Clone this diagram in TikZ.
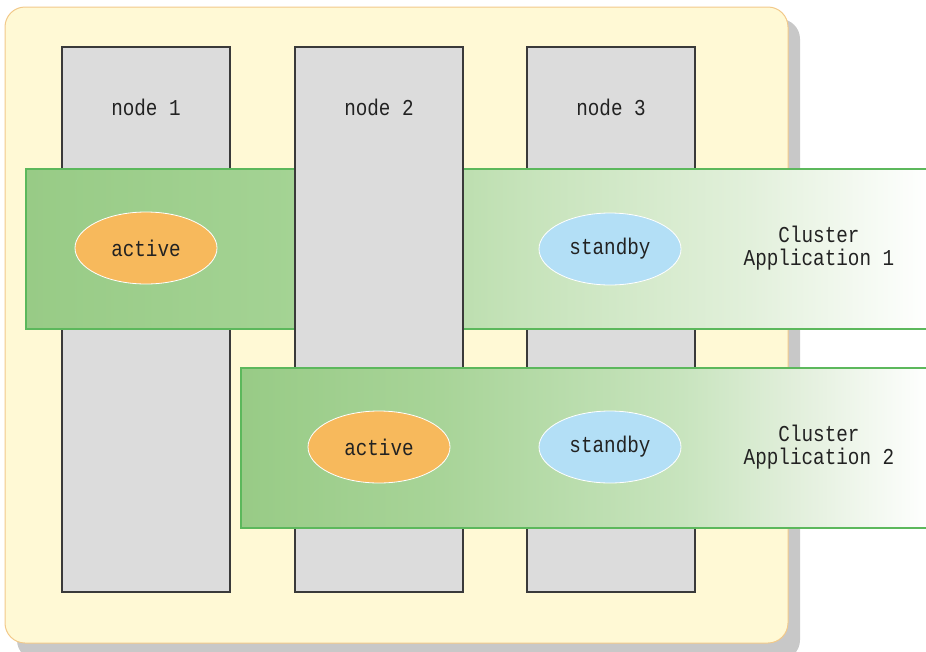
\documentclass[tikz,border=0pt]{standalone}
\usepackage{fontspec}
\setmonofont[FakeStretch=0.85]{Liberation Mono}
\usepackage{xcolor}
\usetikzlibrary{shapes.geometric}

\definecolor{cream}{RGB}{255,249,213}
\definecolor{creamline}{RGB}{242,201,138}
\definecolor{shadowgray}{RGB}{200,200,200}
\definecolor{colgray}{RGB}{220,220,220}
\definecolor{coledge}{RGB}{58,58,58}
\definecolor{bandedge}{RGB}{92,184,92}
\definecolor{bandgreen}{RGB}{152,203,134}
\definecolor{bandmid}{RGB}{164,211,148}
\definecolor{bandlight}{RGB}{198,227,186}
\definecolor{bandpale}{RGB}{226,240,219}
\definecolor{bandtwoa}{RGB}{168,212,152}
\definecolor{bandtwob}{RGB}{200,228,190}
\definecolor{bandtwoc}{RGB}{228,240,222}
\definecolor{actorange}{RGB}{247,185,92}
\definecolor{stbyblue}{RGB}{179,223,246}
\definecolor{txt}{RGB}{34,34,34}

\pgfdeclarehorizontalshading{bandfade}{100bp}{color(0bp)=(bandgreen); color(25bp)=(bandgreen); color(40bp)=(bandmid); color(52.5bp)=(bandlight); color(65bp)=(bandpale); color(75bp)=(white); color(100bp)=(white)}
\pgfdeclarehorizontalshading{bandfadeb}{100bp}{color(0bp)=(bandgreen); color(25bp)=(bandgreen); color(39.5bp)=(bandtwoa); color(57bp)=(bandtwob); color(66bp)=(bandtwoc); color(75bp)=(white); color(100bp)=(white)}

\begin{document}
\begin{tikzpicture}[x=1pt, y=-1pt,
    every node/.style={inner sep=0pt, text=txt, font=\fontsize{22.7}{23}\selectfont\ttfamily},
    column/.style={rectangle, draw=coledge, fill=colgray, line width=1.8pt, minimum width=168pt, minimum height=545pt},
    band/.style={rectangle, draw=bandedge, line width=1.8pt, minimum height=160pt},
    act/.style={ellipse, draw=white, line width=0.8pt, fill=actorange, minimum width=142pt, minimum height=72pt},
    stby/.style={ellipse, draw=white, line width=0.8pt, fill=stbyblue, minimum width=142pt, minimum height=72pt}]
      \clip (0,0) rectangle (926,651);

      % frame and its shadow
      \fill[shadowgray, rounded corners=20pt] (17,19) rectangle (800,660);
      \node[rectangle, draw=creamline, fill=cream, line width=1pt, rounded corners=20pt,
            minimum width=783pt, minimum height=636pt] (frame) at (396.5,325) {};

      \node[column] (n1) at (146,319.5) {};
      \node[column] (n3) at (611,319.5) {};
      \node[anchor=base] (t1) at (146,115) {node 1};
      \node[anchor=base] (t3) at (611,115) {node 3};

      \node[band, shading=bandfade, minimum width=904pt] (band1) at (478,249) {};

      \node[column] (n2) at (379,319.5) {};
      \node[anchor=base] (t2) at (379,115) {node 2};

      \node[band, shading=bandfadeb, minimum width=689pt] (band2) at (585.5,448) {};

      \node[act] (a1) at (146,248) {active};
      \node[stby] (s1) at (610,249) {standby};
      \node[act] (a2) at (379,447) {active};
      \node[stby] (s2) at (610,447) {standby};

      \node[align=center] (app1) at (819,248) {Cluster\\Application 1};
      \node[align=center] (app2) at (819,447) {Cluster\\Application 2};

    \end{tikzpicture}
\end{document}
